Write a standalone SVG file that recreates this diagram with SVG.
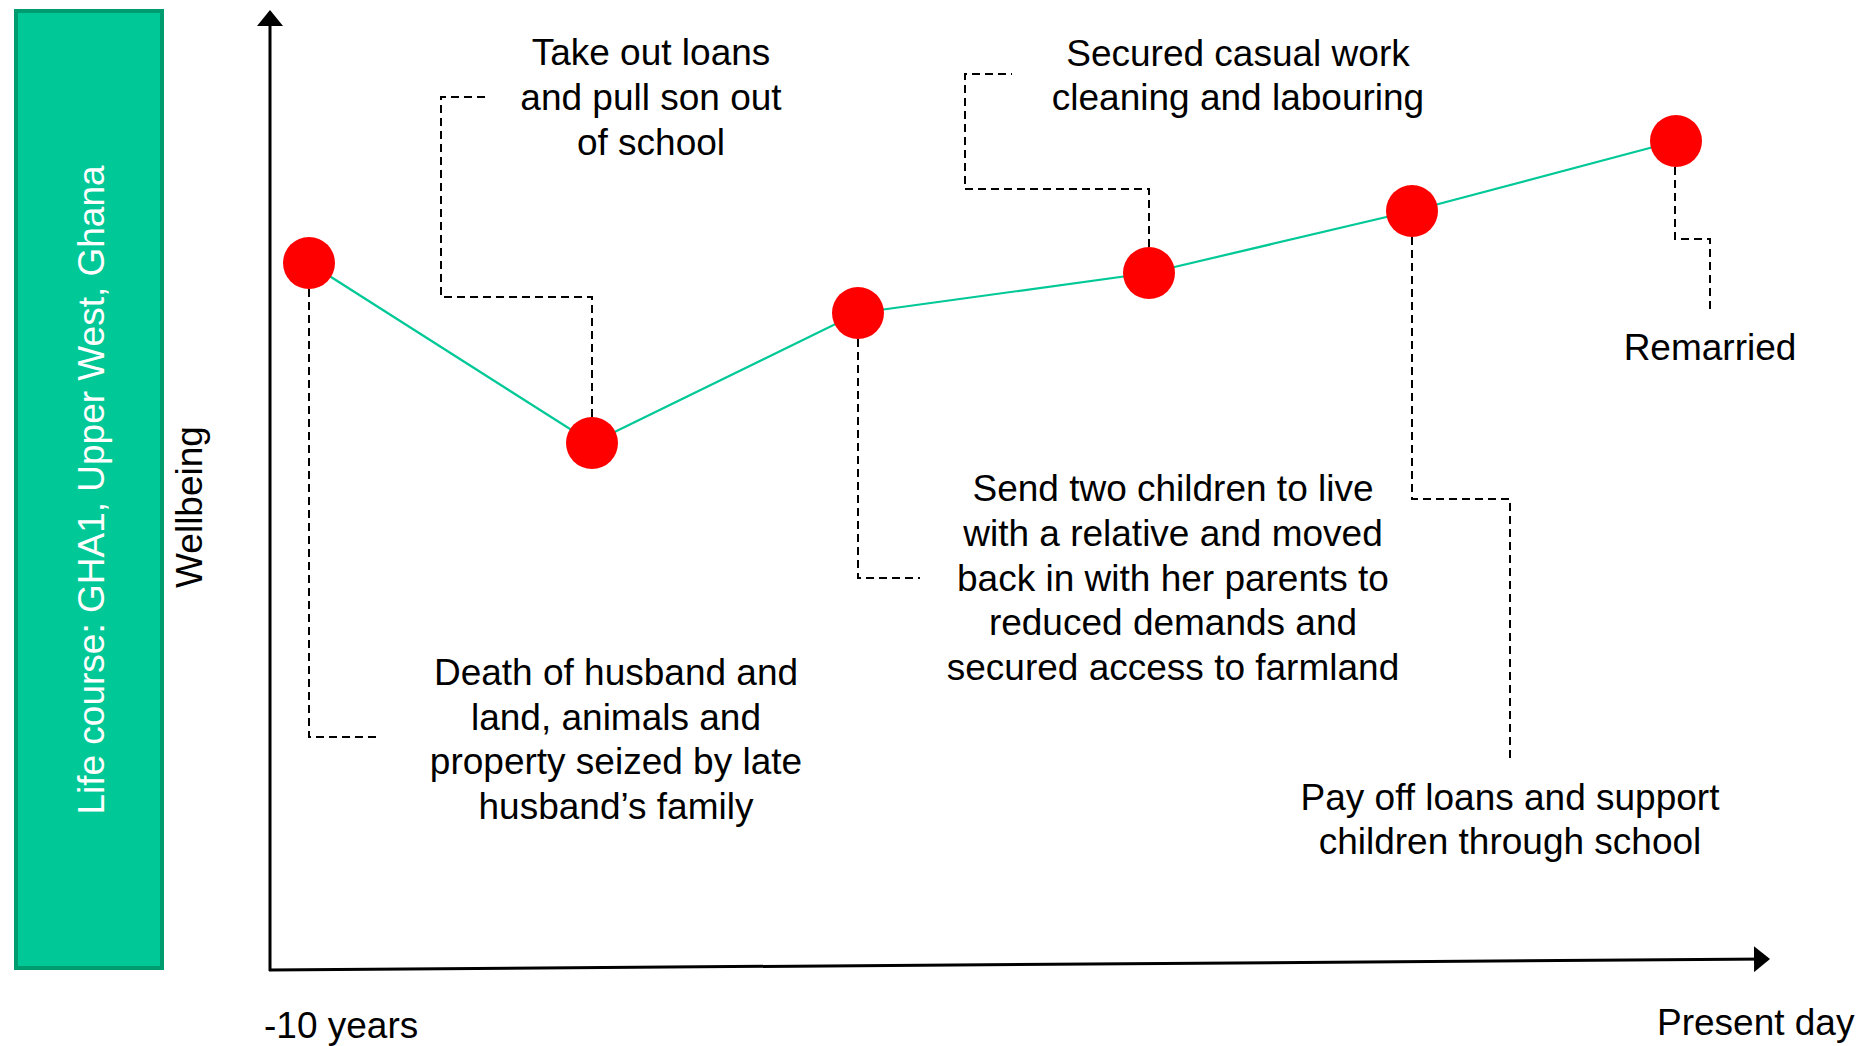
<svg xmlns="http://www.w3.org/2000/svg" width="1858" height="1046" viewBox="0 0 1858 1046">
<style>
text{font-family:"Liberation Sans",Arial,sans-serif;font-size:37px;fill:#000}
.c{text-anchor:middle}
.dash{fill:none;stroke:#000;stroke-width:2;stroke-dasharray:8 5}
.axis{fill:none;stroke:#000;stroke-width:3}
.trend{fill:none;stroke:#00C896;stroke-width:2.2}
.dot{fill:#FF0000}
</style>
<defs>
<marker id="ah" viewBox="0 0 16 26" refX="14" refY="13" markerWidth="16" markerHeight="26" markerUnits="userSpaceOnUse" orient="auto">
<path d="M0,0 L16,13 L0,26 Z" fill="#000"/>
</marker>
</defs>
<g id="title-box">
<rect x="16" y="11" width="146" height="957" fill="#00C896" stroke="#009B6F" stroke-width="4"/>
<text class="c" transform="translate(104,490) rotate(-90)" style="fill:#fff">Life course: GHA1, Upper West, Ghana</text>
</g>
<g id="axes">
<line class="axis" x1="270" y1="971" x2="270" y2="12" marker-end="url(#ah)"/>
<line class="axis" x1="269" y1="970" x2="1768" y2="959" marker-end="url(#ah)"/>
<text class="c" transform="translate(202,507) rotate(-90)">Wellbeing</text>
<text x="264" y="1038">-10 years</text>
<text x="1657" y="1035">Present day</text>
</g>
<g id="connectors">
<polyline class="trend" points="309,263 592,443 858,313 1149,273 1412,211 1676,141"/>
<path class="dash" d="M309,289 V737 H377"/>
<path class="dash" d="M592,417 V297 H441 V97 H488"/>
<path class="dash" d="M858,339 V578 H920"/>
<path class="dash" d="M1149,247 V189 H965 V74 H1012"/>
<path class="dash" d="M1412,237 V499 H1510 V763"/>
<path class="dash" d="M1675,167 V239 H1710 V310"/>
</g>
<g id="event1"><circle class="dot" cx="309" cy="263" r="26"/>
<text class="c" x="616" y="685">Death of husband and</text>
<text class="c" x="616" y="730">land, animals and</text>
<text class="c" x="616" y="774">property seized by late</text>
<text class="c" x="616" y="819">husband’s family</text></g>
<g id="event2"><circle class="dot" cx="592" cy="443" r="26"/>
<text class="c" x="651" y="65">Take out loans</text>
<text class="c" x="651" y="110">and pull son out</text>
<text class="c" x="651" y="155">of school</text></g>
<g id="event3"><circle class="dot" cx="858" cy="313" r="26"/>
<text class="c" x="1173" y="501">Send two children to live</text>
<text class="c" x="1173" y="546">with a relative and moved</text>
<text class="c" x="1173" y="591">back in with her parents to</text>
<text class="c" x="1173" y="635">reduced demands and</text>
<text class="c" x="1173" y="680">secured access to farmland</text></g>
<g id="event4"><circle class="dot" cx="1149" cy="273" r="26"/>
<text class="c" x="1238" y="66">Secured casual work</text>
<text class="c" x="1238" y="110">cleaning and labouring</text></g>
<g id="event5"><circle class="dot" cx="1412" cy="211" r="26"/>
<text class="c" x="1510" y="810">Pay off loans and support</text>
<text class="c" x="1510" y="854">children through school</text></g>
<g id="event6"><circle class="dot" cx="1676" cy="141" r="26"/>
<text class="c" x="1710" y="360">Remarried</text></g>
</svg>
